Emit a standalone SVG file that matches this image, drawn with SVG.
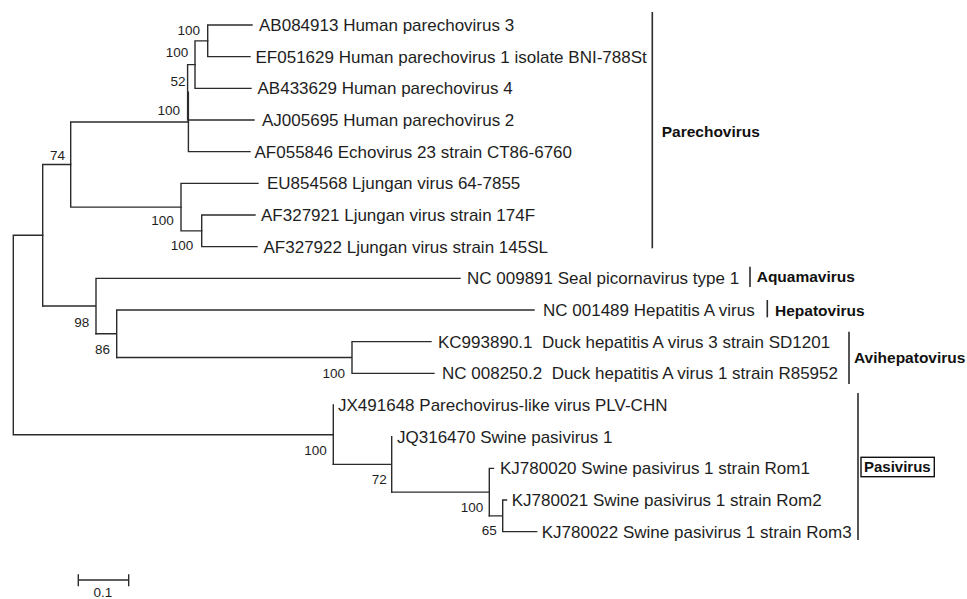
<svg xmlns="http://www.w3.org/2000/svg" width="967" height="599" viewBox="0 0 967 599">
<style>
.br{fill:none;stroke:#2b2b2b;stroke-width:1.4;stroke-linecap:square}
.bar{fill:none;stroke:#2b2b2b;stroke-width:1.6}
.lf{font-family:"Liberation Sans",Arial,sans-serif;font-size:17px;fill:#1e1e1e}
.bs{font-family:"Liberation Sans",Arial,sans-serif;font-size:13.5px;fill:#1e1e1e;text-anchor:end}
.cl{font-family:"Liberation Sans",Arial,sans-serif;font-size:15.5px;font-weight:bold;fill:#111}
</style>
<rect width="967" height="599" fill="#fff"/>
<g id="connectors">
<path class="br" d="M207.7 25V56.67M207.7 25H252M207.7 56.67H250"/>
<path class="br" d="M195 40.83V88.33M195 40.83H207.7M195 88.33H251"/>
<path class="br" d="M187.6 64.58V120M187.6 64.58H195M187.6 120H254"/>
<path class="br" d="M188.4 92.3V151.67M188.4 151.67H250"/>
<path class="br" d="M201.7 215V246.67M201.7 215H255M201.7 246.67H257"/>
<path class="br" d="M181 183.33V230.83M181 230.83H201.7M181 183.33H258"/>
<path class="br" d="M70.7 122V207.08M70.7 122H188.4M70.7 207.08H181"/>
<path class="br" d="M42.7 164.54V306.04M42.7 164.54H70.7"/>
<path class="br" d="M96 278.33V333.75M42.7 306.04H96M96 278.33H460"/>
<path class="br" d="M116.7 310V357.5M96 333.75H116.7M116.7 310H534"/>
<path class="br" d="M352 341.67V373.33M116.7 357.5H352M352 341.67H431M352 373.33H434"/>
<path class="br" d="M13.3 235.29V434.69M13.3 235.29H42.7M13.3 434.69H333.3"/>
<path class="br" d="M333.3 405V464.38"/>
<path class="br" d="M391.7 436.67V492.08M333.3 464.38H391.7"/>
<path class="br" d="M489.3 468.33V515.83M391.7 492.08H489.3M489.3 468.33H493.5"/>
<path class="br" d="M502.7 500V531.67M489.3 515.83H502.7M502.7 500H506.5M502.7 531.67H536.7"/>
</g>
<g id="bootstrap">
<text class="bs" x="200" y="34.8">100</text>
<text class="bs" x="188.3" y="57.4">100</text>
<text class="bs" x="185.5" y="86">52</text>
<text class="bs" x="180" y="115.3">100</text>
<text class="bs" x="65" y="160">74</text>
<text class="bs" x="173.7" y="225.3">100</text>
<text class="bs" x="193.3" y="249.8">100</text>
<text class="bs" x="89.3" y="326.5">98</text>
<text class="bs" x="110" y="353.5">86</text>
<text class="bs" x="345" y="377.5">100</text>
<text class="bs" x="326.7" y="454.5">100</text>
<text class="bs" x="386.7" y="484">72</text>
<text class="bs" x="483.3" y="511.5">100</text>
<text class="bs" x="496.7" y="534.8">65</text>
</g>
<g id="leaf-AB084913"><text class="lf" x="259" y="31">AB084913 Human parechovirus 3</text></g>
<g id="leaf-EF051629"><text class="lf" x="255.5" y="62.7">EF051629 Human parechovirus 1 isolate BNI-788St</text></g>
<g id="leaf-AB433629"><text class="lf" x="257.5" y="94.3">AB433629 Human parechovirus 4</text></g>
<g id="leaf-AJ005695"><text class="lf" x="262" y="126">AJ005695 Human parechovirus 2</text></g>
<g id="leaf-AF055846"><text class="lf" x="254.5" y="157.7">AF055846 Echovirus 23 strain CT86-6760</text></g>
<g id="leaf-EU854568"><text class="lf" x="267" y="189.3">EU854568 Ljungan virus 64-7855</text></g>
<g id="leaf-AF327921"><text class="lf" x="261" y="221">AF327921 Ljungan virus strain 174F</text></g>
<g id="leaf-AF327922"><text class="lf" x="263.5" y="252.7">AF327922 Ljungan virus strain 145SL</text></g>
<g id="leaf-NC009891"><text class="lf" x="467" y="284.3">NC 009891 Seal picornavirus type 1</text></g>
<g id="leaf-NC001489"><text class="lf" x="543" y="316">NC 001489 Hepatitis A virus</text></g>
<g id="leaf-KC993890"><text class="lf" x="438" y="347.7" xml:space="preserve">KC993890.1  Duck hepatitis A virus 3 strain SD1201</text></g>
<g id="leaf-NC008250"><text class="lf" x="442" y="379.3" xml:space="preserve">NC 008250.2  Duck hepatitis A virus 1 strain R85952</text></g>
<g id="leaf-JX491648"><text class="lf" x="338" y="411">JX491648 Parechovirus-like virus PLV-CHN</text></g>
<g id="leaf-JQ316470"><text class="lf" x="397" y="442.7">JQ316470 Swine pasivirus 1</text></g>
<g id="leaf-KJ780020"><text class="lf" x="500" y="474.3">KJ780020 Swine pasivirus 1 strain Rom1</text></g>
<g id="leaf-KJ780021"><text class="lf" x="511.7" y="506">KJ780021 Swine pasivirus 1 strain Rom2</text></g>
<g id="leaf-KJ780022"><text class="lf" x="541.7" y="537.7">KJ780022 Swine pasivirus 1 strain Rom3</text></g>
<g id="clade-Parechovirus"><path class="bar" d="M652.3 12V248.3"/><text class="cl" x="661.7" y="137.2">Parechovirus</text></g>
<g id="clade-Aquamavirus"><path class="bar" d="M750 266.7V287"/><text class="cl" x="756.7" y="282.2">Aquamavirus</text></g>
<g id="clade-Hepatovirus"><path class="bar" d="M767.3 300V317.3"/><text class="cl" x="775" y="315.5">Hepatovirus</text></g>
<g id="clade-Avihepatovirus"><path class="bar" d="M849 331.7V384"/><text class="cl" x="854" y="362.8">Avihepatovirus</text></g>
<g id="clade-Pasivirus"><path class="bar" d="M858 393V540"/><rect x="861" y="457.3" width="73.3" height="19.4" fill="none" stroke="#111" stroke-width="1.4"/><text class="cl" x="864" y="472.3" style="font-size:15px">Pasivirus</text></g>
<g id="scale-bar"><path class="br" d="M78.3 580H128.7M78.3 575V585.5M128.7 575V585.5"/><text class="bs" x="103" y="597" style="text-anchor:middle">0.1</text></g>
</svg>
